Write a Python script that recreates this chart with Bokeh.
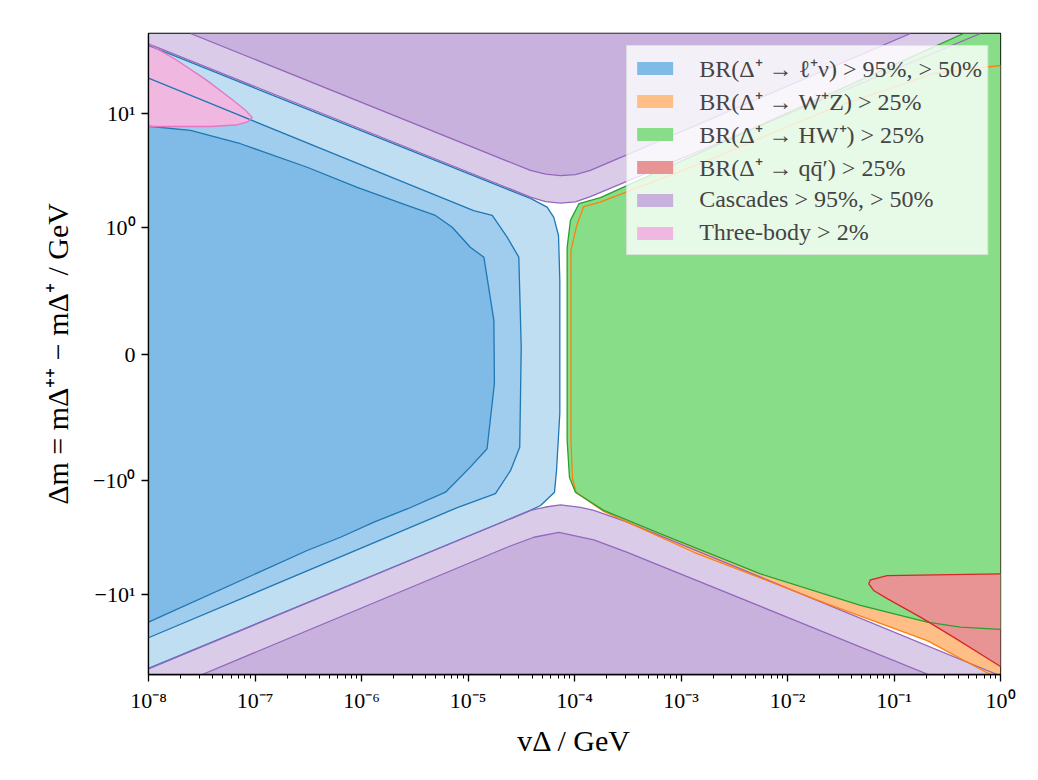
import math
from bokeh.plotting import figure
from bokeh.models import (FixedTicker, CustomJSTickFormatter, Legend, LegendItem, Range1d)
from bokeh.embed import file_html
from bokeh.resources import INLINE

# ---------------- axis limits / ticks ----------------
V_MIN, V_MAX = 1e-8, 1.0
DM_MAX = 50.0
LINSCALE = 1.0 / (1.0 - 1.0 / 10.0)   # matplotlib symlog, linthresh=1, linscale=1

x_tick_values = [1e-8, 1e-7, 1e-6, 1e-5, 1e-4, 1e-3, 1e-2, 1e-1, 1.0]
x_tick_labels = ["10⁻⁸", "10⁻⁷", "10⁻⁶", "10⁻⁵", "10⁻⁴", "10⁻³", "10⁻²", "10⁻¹", "10⁰"]
y_tick_values = [-10.0, -1.0, 0.0, 1.0, 10.0]
y_tick_labels = ["−10¹", "−10⁰", "0", "10⁰", "10¹"]
x_title = "vΔ / GeV"
y_title = "Δm = mΔ⁺⁺ − mΔ⁺ / GeV"

# ---------------- region boundaries (v_Delta [GeV], Delta m [GeV]) ----------------
# Cascades > 50 %  (upper lobe)
casc50_up_v = [1e-8, 3.86e-5, 5.35e-5, 7.4e-5, 1.02e-4, 1.41e-4, 0.65]
casc50_up_dm = [40.6, 1.84, 1.68, 1.63, 1.67, 1.86, 50.0]
# Cascades > 95 %  (upper lobe)
casc95_up_v = [2.48e-8, 3.86e-5, 5.35e-5, 7.4e-5, 1.02e-4, 1.41e-4, 0.143]
casc95_up_dm = [50.0, 3.15, 2.93, 2.84, 2.90, 3.15, 50.0]
# Cascades > 50 %  (lower lobe)
casc50_lo_v = [1e-8, 3.86e-5, 5.35e-5, 7.4e-5, 1.14e-4, 1.52e-4, 3.13e-4, 0.93]
casc50_lo_dm = [-44.6, -1.82, -1.70, -1.63, -1.71, -1.82, -2.31, -50.0]
# Cascades > 95 %  (lower lobe)
casc95_lo_v = [3.19e-8, 2.33e-5, 4.15e-5, 7.13e-5, 1.52e-4, 3.13e-4, 0.21]
casc95_lo_dm = [-50.0, -3.83, -3.13, -2.84, -3.30, -4.24, -50.0]

# BR(Delta+ -> l nu): three nested contours
lnu_a_v = [1e-8, 3.86e-5, 5.53e-5, 6.39e-5, 7.08e-5, 7.28e-5, 7.28e-5, 6.78e-5,
           6.49e-5, 4.80e-5, 3.86e-5, 1e-8]
lnu_a_dm = [39.3, 1.79, 1.50, 1.22, 0.935, 0.580, -0.470, -0.919,
            -1.26, -1.65, -1.82, -44.1]
lnu_b_v = [1e-8, 2.72e-6, 1.13e-5, 1.69e-5, 2.33e-5, 3.00e-5, 3.16e-5, 3.06e-5,
           2.51e-5, 1.81e-5, 7.93e-6, 1e-8]
lnu_b_dm = [20.3, 2.40, 1.40, 1.27, 0.922, 0.764, 0.054, -0.735,
            -0.919, -1.30, -1.72, -23.8]
lnu_c_v = [1e-8, 2.48e-8, 7.31e-8, 3.09e-7, 9.12e-7, 2.72e-6, 4.95e-6, 7.11e-6,
           1.05e-5, 1.41e-5, 1.75e-5, 1.77e-5, 1.51e-5, 1.05e-5, 6.15e-6,
           2.72e-6, 1.31e-6, 6.35e-7, 3.09e-7, 1e-8]
lnu_c_dm = [7.69, 7.06, 5.40, 3.36, 2.24, 1.55, 1.27, 1.0,
            0.842, 0.764, 0.264, -0.233, -0.748, -0.893, -1.26,
            -1.76, -2.31, -3.13, -4.09, -17.4]

# Three-body > 2 %
three_v = [1e-8, 1.80e-8, 3.43e-8, 5.89e-8, 8.15e-8, 9.42e-8, 8.51e-8, 6.56e-8, 3.82e-8, 1e-8]
three_dm = [40.6, 29.6, 19.8, 13.5, 10.6, 9.17, 8.38, 7.88, 7.65, 7.65]

# BR(Delta+ -> W+ Z) > 25 %
wz_v = [1.0, 0.235, 0.027, 1.52e-3, 1.74e-4, 1.22e-4, 1.05e-4, 9.27e-5, 9.27e-5,
        9.57e-5, 1.04e-4, 1.88e-4, 1.32e-3, 0.0236, 0.205, 0.776, 0.80]
wz_dm = [26.2, 22.3, 11.2, 3.62, 1.66, 1.52, 1.04, 0.817, -0.682,
         -0.982, -1.27, -1.86, -4.24, -12.0, -25.2, -49.3, -50.0]

# BR(Delta+ -> H W+) > 25 %
hw_v = [0.45, 1.75e-4, 1.10e-4, 9.16e-5, 8.53e-5, 8.53e-5, 8.97e-5, 1.02e-4,
        1.88e-4, 6.43e-4, 5.57e-3, 0.0484, 0.205, 0.421, 1.0]
hw_dm = [50.0, 1.82, 1.61, 1.15, 0.842, -0.682, -0.972, -1.26,
         -1.82, -2.92, -6.55, -12.4, -17.4, -19.2, -20.1]

# BR(Delta+ -> q qbar') > 25 %
qq_v = [1.0, 0.0863, 0.0601, 0.058, 0.0643, 0.0863, 0.177, 0.362, 1.0]
qq_dm = [-6.55, -6.78, -7.39, -8.01, -9.17, -10.8, -15.7, -23.5, -42.6]

legend_labels = ["BR(Δ⁺ → ℓ⁺ν) > 95%, > 50%", "BR(Δ⁺ → W⁺Z) > 25%",
                 "BR(Δ⁺ → HW⁺) > 25%", "BR(Δ⁺ → qq̄′) > 25%",
                 "Cascades > 95%, > 50%", "Three-body > 2%"]


def symlog(d):
    a = abs(d)
    s = 1.0 if d >= 0 else -1.0
    return s * (a * LINSCALE if a <= 1.0 else LINSCALE + math.log10(a))


def T(seq):
    return [symlog(d) for d in seq]


Y_TOP = symlog(DM_MAX)
FONT = "Liberation Serif"

p = figure(frame_width=852, frame_height=641, x_axis_type="log",
           x_range=Range1d(V_MIN, V_MAX), y_range=Range1d(-Y_TOP, Y_TOP),
           output_backend="svg", toolbar_location=None,
           min_border_left=148, min_border_top=33, min_border_right=38,
           min_border_bottom=96, background_fill_color="white",
           border_fill_color="white")
p.xgrid.visible = False
p.ygrid.visible = False
p.outline_line_color = "black"
p.outline_line_width = 1.3
p.outline_line_alpha = 1.0

# ---------------- fills ----------------
PURPLE_L, PURPLE_D = "#dacce9", "#c8b2dd"
BLUE_L, BLUE_M, BLUE_D = "#c0def2", "#a0cded", "#7fbbe6"
GREEN, ORANGE, RED, PINK = "#88de88", "#ffbe86", "#e99494", "#f0b8e0"


def fill(xs, ys, color):
    return p.patch(x=xs, y=T(ys), fill_color=color, fill_alpha=1.0, line_color=None)


fill(casc50_up_v + [V_MIN], casc50_up_dm + [DM_MAX], PURPLE_L)
fill(casc50_lo_v + [V_MIN], casc50_lo_dm + [-DM_MAX], PURPLE_L)
r_purple = fill(casc95_up_v, casc95_up_dm, PURPLE_D)
fill(casc95_lo_v, casc95_lo_dm, PURPLE_D)
fill(lnu_a_v, lnu_a_dm, BLUE_L)
fill(lnu_b_v, lnu_b_dm, BLUE_M)
r_blue = fill(lnu_c_v, lnu_c_dm, BLUE_D)
r_pink = fill(three_v, three_dm, PINK)
r_orange = fill(wz_v + [V_MAX], wz_dm + [-DM_MAX], ORANGE)
r_green = fill(hw_v + [V_MAX], hw_dm + [DM_MAX], GREEN)
r_red = fill(qq_v, qq_dm, RED)

# ---------------- boundary lines ----------------
LW = 1.3
for xs, ys in [(lnu_a_v, lnu_a_dm), (lnu_b_v, lnu_b_dm), (lnu_c_v, lnu_c_dm)]:
    p.line(xs, T(ys), line_color="#1f77b4", line_width=LW)
for xs, ys in [(casc50_up_v, casc50_up_dm), (casc95_up_v, casc95_up_dm),
               (casc50_lo_v, casc50_lo_dm), (casc95_lo_v, casc95_lo_dm)]:
    p.line(xs, T(ys), line_color="#9467bd", line_width=LW)
p.line(three_v, T(three_dm), line_color="#e377c2", line_width=LW)
p.line(wz_v, T(wz_dm), line_color="#ff7f0e", line_width=LW)
p.line(hw_v, T(hw_dm), line_color="#2ca02c", line_width=LW)
p.line(qq_v, T(qq_dm), line_color="#d62728", line_width=LW)

# ---------------- axes ----------------
minor = [m * 10.0 ** k for k in range(-8, 0) for m in range(2, 10)]
p.xaxis.ticker = FixedTicker(ticks=x_tick_values, minor_ticks=minor)
p.xaxis.formatter = CustomJSTickFormatter(
    args=dict(pos=[math.log10(v) for v in x_tick_values], lab=x_tick_labels),
    code="""
    const t = Math.log10(tick);
    let best = 0, d = Infinity;
    for (let i = 0; i < pos.length; i++) { const dd = Math.abs(pos[i] - t); if (dd < d) { d = dd; best = i; } }
    return lab[best];
    """)
p.yaxis.ticker = FixedTicker(ticks=T(y_tick_values), minor_ticks=[])
p.yaxis.formatter = CustomJSTickFormatter(
    args=dict(pos=T(y_tick_values), lab=y_tick_labels),
    code="""
    let best = 0, d = Infinity;
    for (let i = 0; i < pos.length; i++) { const dd = Math.abs(pos[i] - tick); if (dd < d) { d = dd; best = i; } }
    return lab[best];
    """)
for ax in (p.xaxis[0], p.yaxis[0]):
    ax.axis_line_color = "black"
    ax.axis_line_width = 1.3
    ax.major_tick_line_color = "black"
    ax.major_tick_line_width = 1.3
    ax.major_tick_out = 7
    ax.major_tick_in = 0
    ax.minor_tick_line_color = "black"
    ax.minor_tick_line_width = 1.0
    ax.minor_tick_out = 4
    ax.minor_tick_in = 0
    ax.major_label_text_font = FONT
    ax.major_label_text_font_size = "22px"
    ax.major_label_text_color = "black"
    ax.major_label_standoff = 6
    ax.axis_label_text_font = FONT
    ax.axis_label_text_font_size = "30px"
    ax.axis_label_text_font_style = "normal"
    ax.axis_label_text_color = "black"

p.xaxis.axis_label = x_title
p.xaxis.axis_label_standoff = 8
p.yaxis.axis_label = y_title
p.yaxis.axis_label_standoff = 16

# ---------------- legend ----------------
legend = Legend(items=[LegendItem(label=legend_labels[0], renderers=[r_blue]),
                       LegendItem(label=legend_labels[1], renderers=[r_orange]),
                       LegendItem(label=legend_labels[2], renderers=[r_green]),
                       LegendItem(label=legend_labels[3], renderers=[r_red]),
                       LegendItem(label=legend_labels[4], renderers=[r_purple]),
                       LegendItem(label=legend_labels[5], renderers=[r_pink])],
                location="top_right", margin=12, padding=5, spacing=0,
                glyph_width=45, glyph_height=16, label_height=33, label_standoff=22,
                label_text_font=FONT, label_text_font_size="24px",
                border_line_color="#cccccc", border_line_width=1.3,
                background_fill_color="white", background_fill_alpha=0.8)
p.add_layout(legend)

open("out.html", "w").write(file_html(p, INLINE))
